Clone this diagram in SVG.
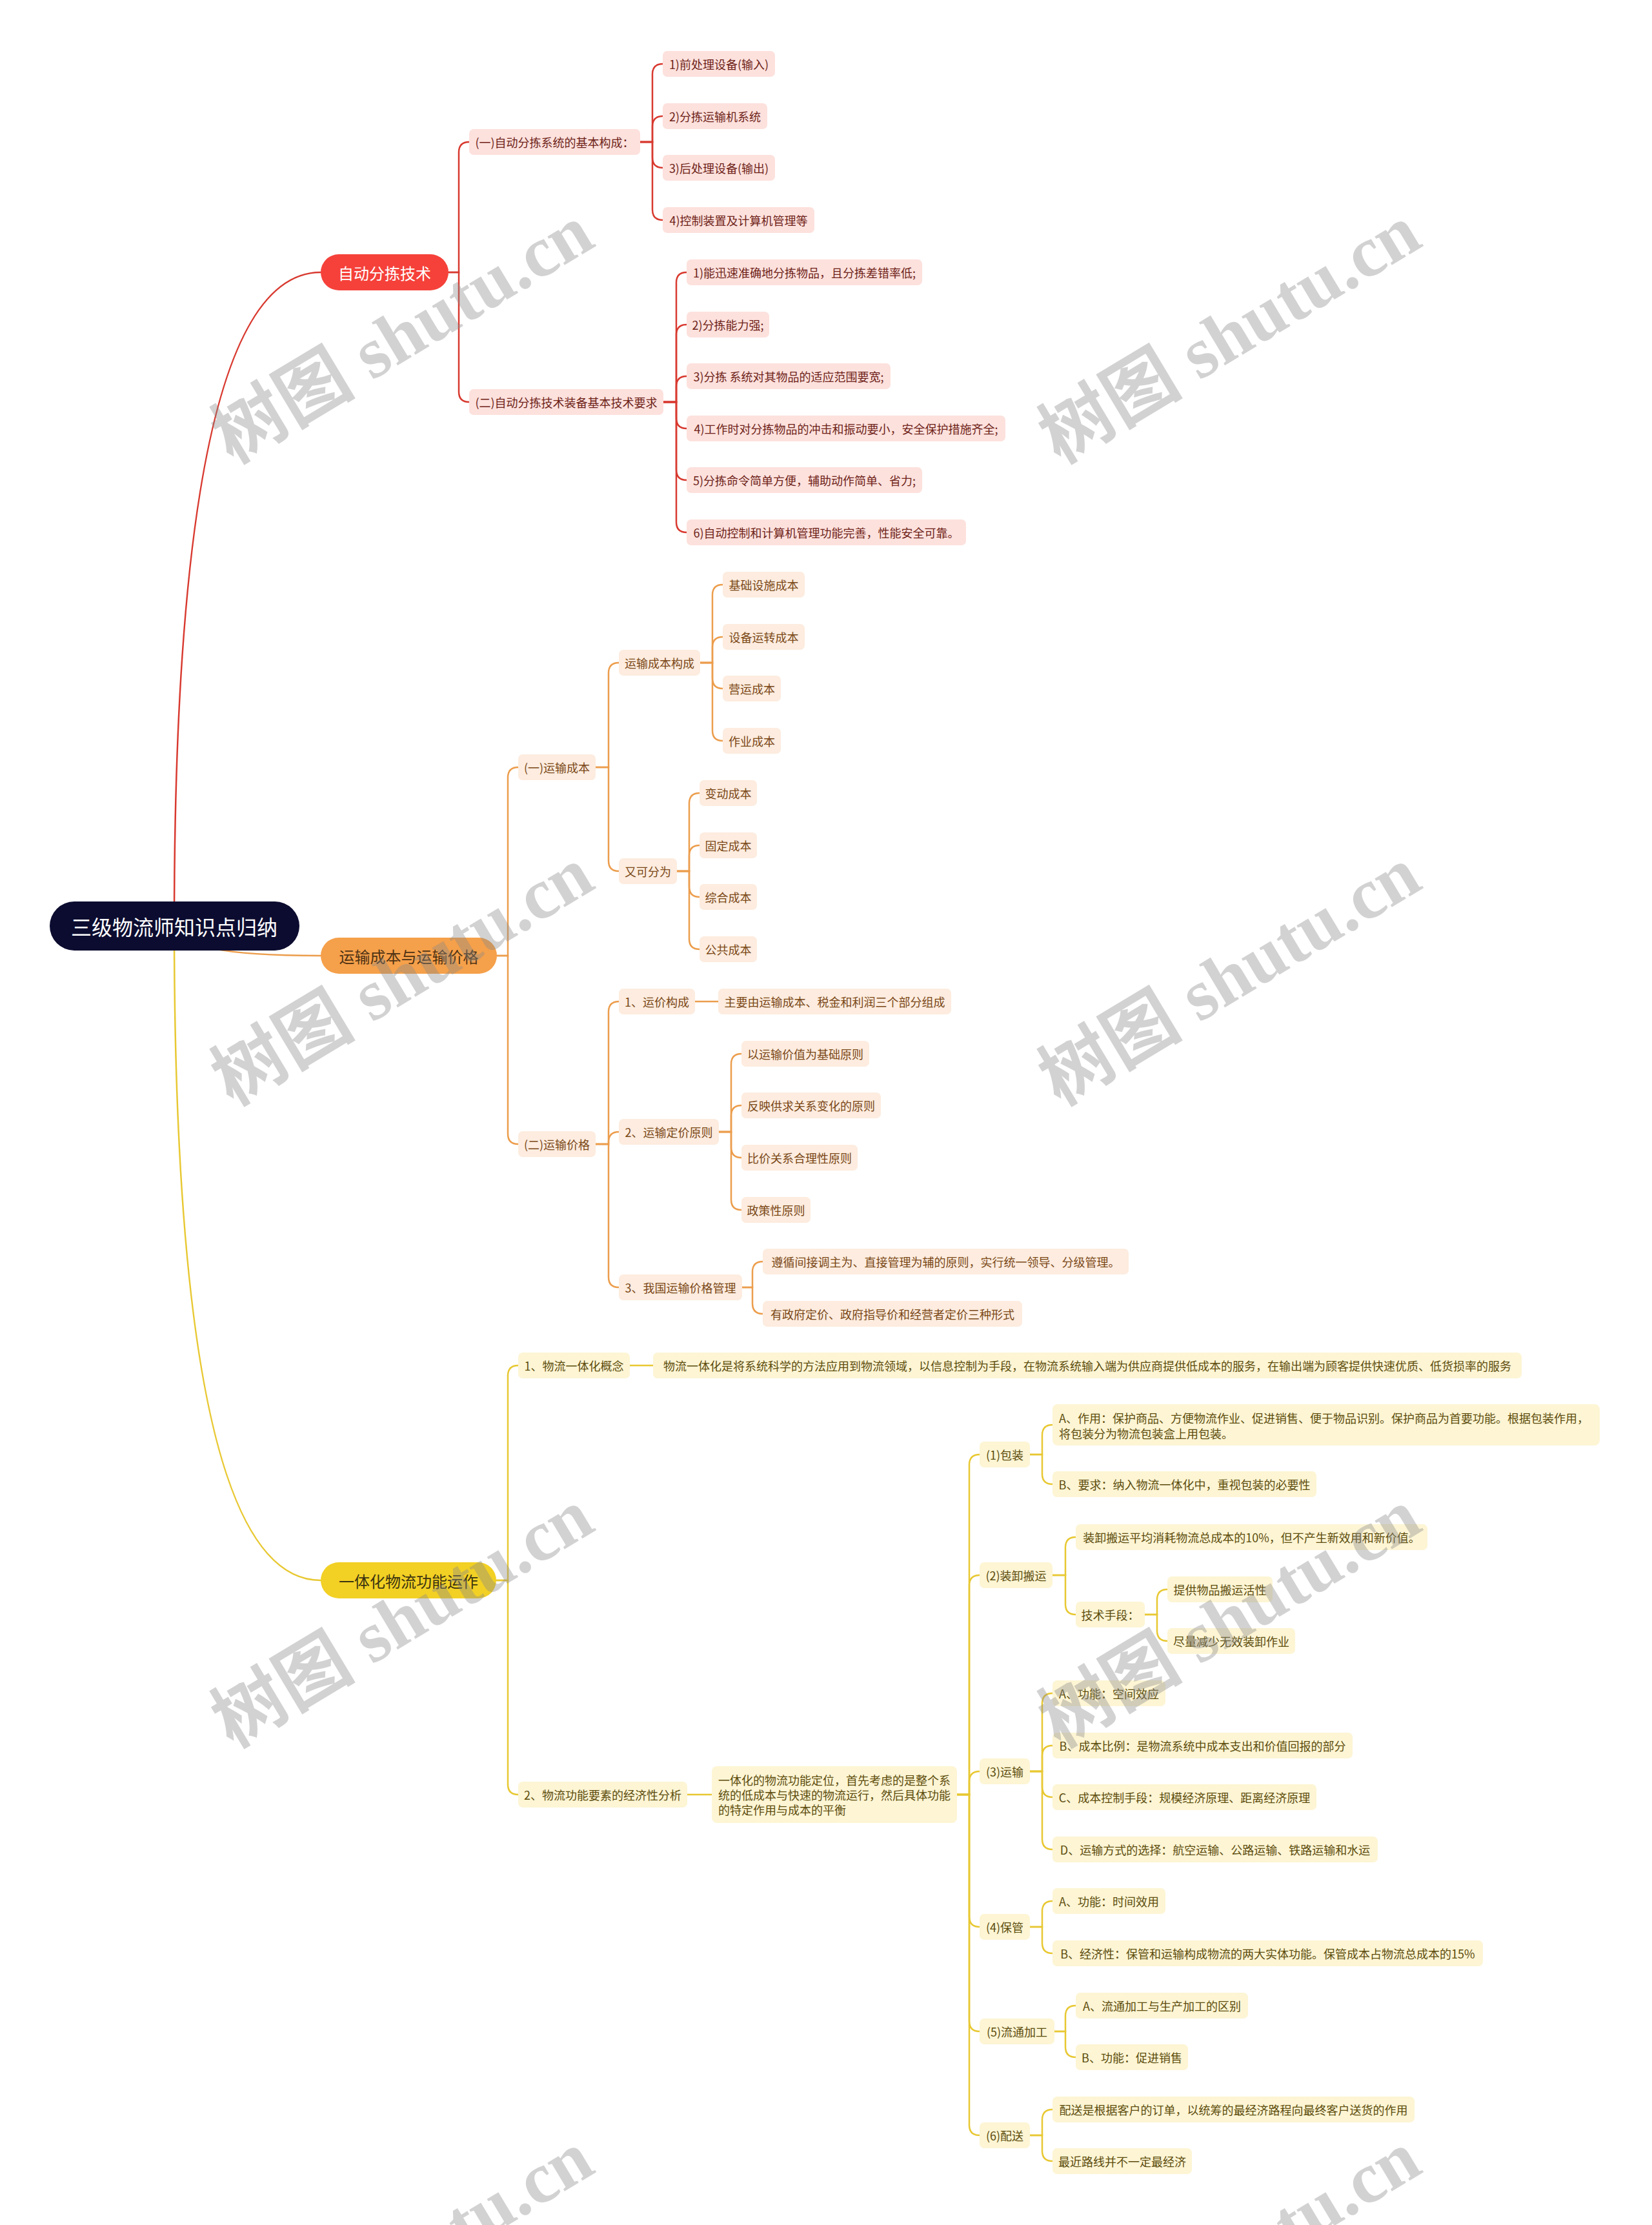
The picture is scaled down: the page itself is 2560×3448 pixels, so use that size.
<svg xmlns="http://www.w3.org/2000/svg" width="2560" height="3448" viewBox="0 0 2560 3448">
<style>
text{font-family:"Noto Sans CJK SC","Liberation Sans",sans-serif;dominant-baseline:central}
.t{font-size:18px;text-anchor:middle}
.tl{font-size:18px;text-anchor:start}
.r2{fill:#fde1dd}.rt{fill:#6e1f18}
.o2{fill:#fdecdf}.ot{fill:#7a4716}
.y2{fill:#fdf5d4}.yt{fill:#5c4c0c}
.c{fill:none;stroke-width:2.5;stroke-linecap:round}
.cr{stroke:#d8392f}.co{stroke:#ec9d4c}.cy{stroke:#e8c832}
.m{font-size:24px;text-anchor:middle}
.wm{font-family:"Liberation Serif","Noto Sans CJK SC",serif;font-weight:bold;font-size:112px;fill:#888;fill-opacity:0.38;text-anchor:middle;dominant-baseline:auto}
</style>
<rect width="2560" height="3448" fill="#ffffff"/>
<g id="connectors">
<path class="c cr" stroke-width="3" d="M270 1435 Q270 422 497 422"/>
<path class="c co" stroke-width="3" d="M270 1435 Q270 1481 497 1481"/>
<path class="c cy" stroke-width="3" d="M270 1435 Q270 2449 497 2449"/>
<path class="c cr" d="M695 422 H711 V236 Q711 220 727 220"/>
<path class="c cr" d="M695 422 H711 V607 Q711 623 727 623"/>
<path class="c cr" d="M992 220 H1011 V115 Q1011 99 1027 99"/>
<path class="c cr" d="M992 220 H1011 V196 Q1011 180 1027 180"/>
<path class="c cr" d="M992 220 H1011 V244 Q1011 260 1027 260"/>
<path class="c cr" d="M992 220 H1011 V325 Q1011 341 1027 341"/>
<path class="c cr" d="M1028 623 H1048 V438 Q1048 422 1064 422"/>
<path class="c cr" d="M1028 623 H1048 V519 Q1048 503 1064 503"/>
<path class="c cr" d="M1028 623 H1048 V599 Q1048 583 1064 583"/>
<path class="c cr" d="M1028 623 H1048 V648 Q1048 664 1064 664"/>
<path class="c cr" d="M1028 623 H1048 V728 Q1048 744 1064 744"/>
<path class="c cr" d="M1028 623 H1048 V809 Q1048 825 1064 825"/>
<path class="c co" d="M770 1481 H787 V1205 Q787 1189 803 1189"/>
<path class="c co" d="M770 1481 H787 V1757 Q787 1773 803 1773"/>
<path class="c co" d="M923 1189 H943 V1043 Q943 1027 959 1027"/>
<path class="c co" d="M923 1189 H943 V1334 Q943 1350 959 1350"/>
<path class="c co" d="M1085 1027 H1104 V922 Q1104 906 1120 906"/>
<path class="c co" d="M1085 1027 H1104 V1003 Q1104 987 1120 987"/>
<path class="c co" d="M1085 1027 H1104 V1051 Q1104 1067 1120 1067"/>
<path class="c co" d="M1085 1027 H1104 V1132 Q1104 1148 1120 1148"/>
<path class="c co" d="M1049 1350 H1068 V1245 Q1068 1229 1084 1229"/>
<path class="c co" d="M1049 1350 H1068 V1326 Q1068 1310 1084 1310"/>
<path class="c co" d="M1049 1350 H1068 V1374 Q1068 1390 1084 1390"/>
<path class="c co" d="M1049 1350 H1068 V1455 Q1068 1471 1084 1471"/>
<path class="c co" d="M923 1773 H943 V1568 Q943 1552 959 1552"/>
<path class="c co" d="M923 1773 H943 V1770 Q943 1754 959 1754"/>
<path class="c co" d="M923 1773 H943 V1979 Q943 1995 959 1995"/>
<path class="c co" stroke-width="3" d="M1077 1552 H1113"/>
<path class="c co" d="M1114 1754 H1133 V1649 Q1133 1633 1149 1633"/>
<path class="c co" d="M1114 1754 H1133 V1729 Q1133 1713 1149 1713"/>
<path class="c co" d="M1114 1754 H1133 V1778 Q1133 1794 1149 1794"/>
<path class="c co" d="M1114 1754 H1133 V1859 Q1133 1875 1149 1875"/>
<path class="c co" d="M1150 1995 H1166 V1971 Q1166 1955 1182 1955"/>
<path class="c co" d="M1150 1995 H1166 V2020 Q1166 2036 1182 2036"/>
<path class="c cy" d="M769 2449 H787 V2132 Q787 2116 803 2116"/>
<path class="c cy" d="M769 2449 H787 V2765 Q787 2781 803 2781"/>
<path class="c cy" stroke-width="3" d="M976 2116 H1012"/>
<path class="c cy" stroke-width="3" d="M1065 2781 H1103"/>
<path class="c cy" d="M1483 2781 H1502 V2270 Q1502 2254 1518 2254"/>
<path class="c cy" d="M1483 2781 H1502 V2457 Q1502 2441 1518 2441"/>
<path class="c cy" d="M1483 2781 H1502 V2761 Q1502 2745 1518 2745"/>
<path class="c cy" d="M1483 2781 H1502 V2970 Q1502 2986 1518 2986"/>
<path class="c cy" d="M1483 2781 H1502 V3132 Q1502 3148 1518 3148"/>
<path class="c cy" d="M1483 2781 H1502 V3293 Q1502 3309 1518 3309"/>
<path class="c cy" d="M1596 2254 H1615 V2224 Q1615 2208 1631 2208"/>
<path class="c cy" d="M1596 2254 H1615 V2284 Q1615 2300 1631 2300"/>
<path class="c cy" d="M1631 2441 H1651 V2398 Q1651 2382 1667 2382"/>
<path class="c cy" d="M1631 2441 H1651 V2486 Q1651 2502 1667 2502"/>
<path class="c cy" d="M1774 2502 H1793 V2479 Q1793 2463 1809 2463"/>
<path class="c cy" d="M1774 2502 H1793 V2527 Q1793 2543 1809 2543"/>
<path class="c cy" d="M1596 2745 H1615 V2640 Q1615 2624 1631 2624"/>
<path class="c cy" d="M1596 2745 H1615 V2721 Q1615 2705 1631 2705"/>
<path class="c cy" d="M1596 2745 H1615 V2769 Q1615 2785 1631 2785"/>
<path class="c cy" d="M1596 2745 H1615 V2850 Q1615 2866 1631 2866"/>
<path class="c cy" d="M1596 2986 H1615 V2962 Q1615 2946 1631 2946"/>
<path class="c cy" d="M1596 2986 H1615 V3011 Q1615 3027 1631 3027"/>
<path class="c cy" d="M1634 3148 H1651 V3124 Q1651 3108 1667 3108"/>
<path class="c cy" d="M1634 3148 H1651 V3172 Q1651 3188 1667 3188"/>
<path class="c cy" d="M1596 3309 H1615 V3285 Q1615 3269 1631 3269"/>
<path class="c cy" d="M1596 3309 H1615 V3333 Q1615 3349 1631 3349"/>
</g>

<g id="root"><rect x="77" y="1397" width="387" height="76" rx="38" fill="#0c0c30"/><text x="270" y="1435" font-size="32" text-anchor="middle" fill="#ffffff">三级物流师知识点归纳</text></g>

<g id="n-red"><rect x="497" y="394" width="198" height="56" rx="28" fill="#f5413a"/><text class="m" x="596" y="422" fill="#ffffff">自动分拣技术</text></g>
<g id="r1"><rect class="r2" x="727" y="200" width="265" height="40" rx="7"/><text class="t rt" x="859.5" y="220">(一)自动分拣系统的基本构成：</text></g>
<g id="r2"><rect class="r2" x="727" y="603" width="301" height="40" rx="7"/><text class="t rt" x="877.5" y="623">(二)自动分拣技术装备基本技术要求</text></g>
<g id="r1a"><rect class="r2" x="1027" y="79" width="174" height="40" rx="7"/><text class="t rt" x="1114" y="99">1)前处理设备(输入)</text></g>
<g id="r1b"><rect class="r2" x="1027" y="160" width="162" height="40" rx="7"/><text class="t rt" x="1108" y="180">2)分拣运输机系统</text></g>
<g id="r1c"><rect class="r2" x="1027" y="240" width="174" height="40" rx="7"/><text class="t rt" x="1114" y="260">3)后处理设备(输出)</text></g>
<g id="r1d"><rect class="r2" x="1027" y="321" width="235" height="40" rx="7"/><text class="t rt" x="1144.5" y="341">4)控制装置及计算机管理等</text></g>
<g id="r2a"><rect class="r2" x="1064" y="402" width="365" height="40" rx="7"/><text class="t rt" x="1246.5" y="422">1)能迅速准确地分拣物品，且分拣差错率低;</text></g>
<g id="r2b"><rect class="r2" x="1064" y="483" width="128" height="40" rx="7"/><text class="t rt" x="1128" y="503">2)分拣能力强;</text></g>
<g id="r2c"><rect class="r2" x="1064" y="563" width="316" height="40" rx="7"/><text class="t rt" x="1222" y="583">3)分拣 系统对其物品的适应范围要宽;</text></g>
<g id="r2d"><rect class="r2" x="1064" y="644" width="494" height="40" rx="7"/><text class="t rt" x="1311" y="664">4)工作时对分拣物品的冲击和振动要小，安全保护措施齐全;</text></g>
<g id="r2e"><rect class="r2" x="1064" y="724" width="365" height="40" rx="7"/><text class="t rt" x="1246.5" y="744">5)分拣命令简单方便，辅助动作简单、省力;</text></g>
<g id="r2f"><rect class="r2" x="1064" y="805" width="433" height="40" rx="7"/><text class="t rt" x="1280.5" y="825">6)自动控制和计算机管理功能完善，性能安全可靠。</text></g>

<g id="n-orange"><rect x="497" y="1453" width="273" height="56" rx="28" fill="#f5a04a"/><text class="m" x="633.5" y="1481" fill="#4e3214">运输成本与运输价格</text></g>
<g id="o1"><rect class="o2" x="803" y="1169" width="120" height="40" rx="7"/><text class="t ot" x="863" y="1189">(一)运输成本</text></g>
<g id="o1a"><rect class="o2" x="959" y="1007" width="126" height="40" rx="7"/><text class="t ot" x="1022" y="1027">运输成本构成</text></g>
<g id="o1a1"><rect class="o2" x="1120" y="886" width="127" height="40" rx="7"/><text class="t ot" x="1183.5" y="906">基础设施成本</text></g>
<g id="o1a2"><rect class="o2" x="1120" y="967" width="127" height="40" rx="7"/><text class="t ot" x="1183.5" y="987">设备运转成本</text></g>
<g id="o1a3"><rect class="o2" x="1120" y="1047" width="90" height="40" rx="7"/><text class="t ot" x="1165" y="1067">营运成本</text></g>
<g id="o1a4"><rect class="o2" x="1120" y="1128" width="90" height="40" rx="7"/><text class="t ot" x="1165" y="1148">作业成本</text></g>
<g id="o1b"><rect class="o2" x="959" y="1330" width="90" height="40" rx="7"/><text class="t ot" x="1004" y="1350">又可分为</text></g>
<g id="o1b1"><rect class="o2" x="1084" y="1209" width="89" height="40" rx="7"/><text class="t ot" x="1128.5" y="1229">变动成本</text></g>
<g id="o1b2"><rect class="o2" x="1084" y="1290" width="89" height="40" rx="7"/><text class="t ot" x="1128.5" y="1310">固定成本</text></g>
<g id="o1b3"><rect class="o2" x="1084" y="1370" width="89" height="40" rx="7"/><text class="t ot" x="1128.5" y="1390">综合成本</text></g>
<g id="o1b4"><rect class="o2" x="1084" y="1451" width="89" height="40" rx="7"/><text class="t ot" x="1128.5" y="1471">公共成本</text></g>
<g id="o2"><rect class="o2" x="803" y="1753" width="120" height="40" rx="7"/><text class="t ot" x="863" y="1773">(二)运输价格</text></g>
<g id="o2a"><rect class="o2" x="959" y="1532" width="118" height="40" rx="7"/><text class="t ot" x="1018" y="1552">1、运价构成</text></g>
<g id="o2a1"><rect class="o2" x="1113" y="1532" width="361" height="40" rx="7"/><text class="t ot" x="1293.5" y="1552">主要由运输成本、税金和利润三个部分组成</text></g>
<g id="o2b"><rect class="o2" x="959" y="1734" width="155" height="40" rx="7"/><text class="t ot" x="1036.5" y="1754">2、运输定价原则</text></g>
<g id="o2b1"><rect class="o2" x="1149" y="1613" width="198" height="40" rx="7"/><text class="t ot" x="1248" y="1633">以运输价值为基础原则</text></g>
<g id="o2b2"><rect class="o2" x="1149" y="1693" width="216" height="40" rx="7"/><text class="t ot" x="1257" y="1713">反映供求关系变化的原则</text></g>
<g id="o2b3"><rect class="o2" x="1149" y="1774" width="180" height="40" rx="7"/><text class="t ot" x="1239" y="1794">比价关系合理性原则</text></g>
<g id="o2b4"><rect class="o2" x="1149" y="1855" width="107" height="40" rx="7"/><text class="t ot" x="1202.5" y="1875">政策性原则</text></g>
<g id="o2c"><rect class="o2" x="959" y="1975" width="191" height="40" rx="7"/><text class="t ot" x="1054.5" y="1995">3、我国运输价格管理</text></g>
<g id="o2c1"><rect class="o2" x="1182" y="1935" width="567" height="40" rx="7"/><text class="t ot" x="1465.5" y="1955">遵循间接调主为、直接管理为辅的原则，实行统一领导、分级管理。</text></g>
<g id="o2c2"><rect class="o2" x="1182" y="2016" width="402" height="40" rx="7"/><text class="t ot" x="1383" y="2036">有政府定价、政府指导价和经营者定价三种形式</text></g>

<g id="n-yellow"><rect x="497" y="2421" width="272" height="56" rx="28" fill="#f2d024"/><text class="m" x="633" y="2449" fill="#3c3410">一体化物流功能运作</text></g>
<g id="y1"><rect class="y2" x="803" y="2096" width="173" height="40" rx="7"/><text class="t yt" x="889.5" y="2116">1、物流一体化概念</text></g>
<g id="y1a"><rect class="y2" x="1012" y="2096" width="1346" height="40" rx="7"/><text class="t yt" x="1685" y="2116">物流一体化是将系统科学的方法应用到物流领域，以信息控制为手段，在物流系统输入端为供应商提供低成本的服务，在输出端为顾客提供快速优质、低货损率的服务</text></g>
<g id="y2"><rect class="y2" x="803" y="2761" width="262" height="40" rx="7"/><text class="t yt" x="934" y="2781">2、物流功能要素的经济性分析</text></g>
<g id="y2a"><rect class="y2" x="1103" y="2737" width="380" height="88" rx="8"/><text class="tl yt" x="1113" y="2758">一体化的物流功能定位，首先考虑的是整个系</text><text class="tl yt" x="1113" y="2781">统的低成本与快速的物流运行，然后具体功能</text><text class="tl yt" x="1113" y="2804">的特定作用与成本的平衡</text></g>
<g id="p1"><rect class="y2" x="1518" y="2234" width="78" height="40" rx="7"/><text class="t yt" x="1557" y="2254">(1)包装</text></g>
<g id="p1a"><rect class="y2" x="1631" y="2176" width="848" height="64" rx="8"/><text class="tl yt" x="1641" y="2197">A、作用：保护商品、方便物流作业、促进销售、便于物品识别。保护商品为首要功能。根据包装作用，</text><text class="tl yt" x="1641" y="2221">将包装分为物流包装盒上用包装。</text></g>
<g id="p1b"><rect class="y2" x="1631" y="2280" width="409" height="40" rx="7"/><text class="t yt" x="1835.5" y="2300">B、要求：纳入物流一体化中，重视包装的必要性</text></g>
<g id="p2"><rect class="y2" x="1518" y="2421" width="113" height="40" rx="7"/><text class="t yt" x="1574.5" y="2441">(2)装卸搬运</text></g>
<g id="p2a"><rect class="y2" x="1667" y="2362" width="545" height="40" rx="7"/><text class="t yt" x="1939.5" y="2382">装卸搬运平均消耗物流总成本的10%，但不产生新效用和新价值。</text></g>
<g id="p2b"><rect class="y2" x="1667" y="2482" width="107" height="40" rx="7"/><text class="t yt" x="1720.5" y="2502">技术手段：</text></g>
<g id="p2b1"><rect class="y2" x="1809" y="2443" width="163" height="40" rx="7"/><text class="t yt" x="1890.5" y="2463">提供物品搬运活性</text></g>
<g id="p2b2"><rect class="y2" x="1809" y="2523" width="198" height="40" rx="7"/><text class="t yt" x="1908" y="2543">尽量减少无效装卸作业</text></g>
<g id="p3"><rect class="y2" x="1518" y="2725" width="78" height="40" rx="7"/><text class="t yt" x="1557" y="2745">(3)运输</text></g>
<g id="p3a"><rect class="y2" x="1631" y="2604" width="175" height="40" rx="7"/><text class="t yt" x="1718.5" y="2624">A、功能：空间效应</text></g>
<g id="p3b"><rect class="y2" x="1631" y="2685" width="465" height="40" rx="7"/><text class="t yt" x="1863.5" y="2705">B、成本比例：是物流系统中成本支出和价值回报的部分</text></g>
<g id="p3c"><rect class="y2" x="1631" y="2765" width="409" height="40" rx="7"/><text class="t yt" x="1835.5" y="2785">C、成本控制手段：规模经济原理、距离经济原理</text></g>
<g id="p3d"><rect class="y2" x="1631" y="2846" width="504" height="40" rx="7"/><text class="t yt" x="1883" y="2866">D、运输方式的选择：航空运输、公路运输、铁路运输和水运</text></g>
<g id="p4"><rect class="y2" x="1518" y="2966" width="78" height="40" rx="7"/><text class="t yt" x="1557" y="2986">(4)保管</text></g>
<g id="p4a"><rect class="y2" x="1631" y="2926" width="175" height="40" rx="7"/><text class="t yt" x="1718.5" y="2946">A、功能：时间效用</text></g>
<g id="p4b"><rect class="y2" x="1631" y="3007" width="667" height="40" rx="7"/><text class="t yt" x="1964.5" y="3027">B、经济性：保管和运输构成物流的两大实体功能。保管成本占物流总成本的15%</text></g>
<g id="p5"><rect class="y2" x="1518" y="3128" width="116" height="40" rx="7"/><text class="t yt" x="1576" y="3148">(5)流通加工</text></g>
<g id="p5a"><rect class="y2" x="1667" y="3088" width="267" height="40" rx="7"/><text class="t yt" x="1800.5" y="3108">A、流通加工与生产加工的区别</text></g>
<g id="p5b"><rect class="y2" x="1667" y="3168" width="174" height="40" rx="7"/><text class="t yt" x="1754" y="3188">B、功能：促进销售</text></g>
<g id="p6"><rect class="y2" x="1518" y="3289" width="78" height="40" rx="7"/><text class="t yt" x="1557" y="3309">(6)配送</text></g>
<g id="p6a"><rect class="y2" x="1631" y="3249" width="561" height="40" rx="7"/><text class="t yt" x="1911.5" y="3269">配送是根据客户的订单，以统筹的最经济路程向最终客户送货的作用</text></g>
<g id="p6b"><rect class="y2" x="1631" y="3329" width="216" height="40" rx="7"/><text class="t yt" x="1739" y="3349">最近路线并不一定最经济</text></g>

<g id="watermarks">
<text class="wm" transform="translate(643 550) rotate(-31)">树图 shutu.cn</text>
<text class="wm" transform="translate(1925 550) rotate(-31)">树图 shutu.cn</text>
<text class="wm" transform="translate(643 1545) rotate(-31)">树图 shutu.cn</text>
<text class="wm" transform="translate(1925 1545) rotate(-31)">树图 shutu.cn</text>
<text class="wm" transform="translate(643 2540) rotate(-31)">树图 shutu.cn</text>
<text class="wm" transform="translate(1925 2540) rotate(-31)">树图 shutu.cn</text>
<text class="wm" transform="translate(643 3535) rotate(-31)">树图 shutu.cn</text>
<text class="wm" transform="translate(1925 3535) rotate(-31)">树图 shutu.cn</text>
</g>
</svg>
